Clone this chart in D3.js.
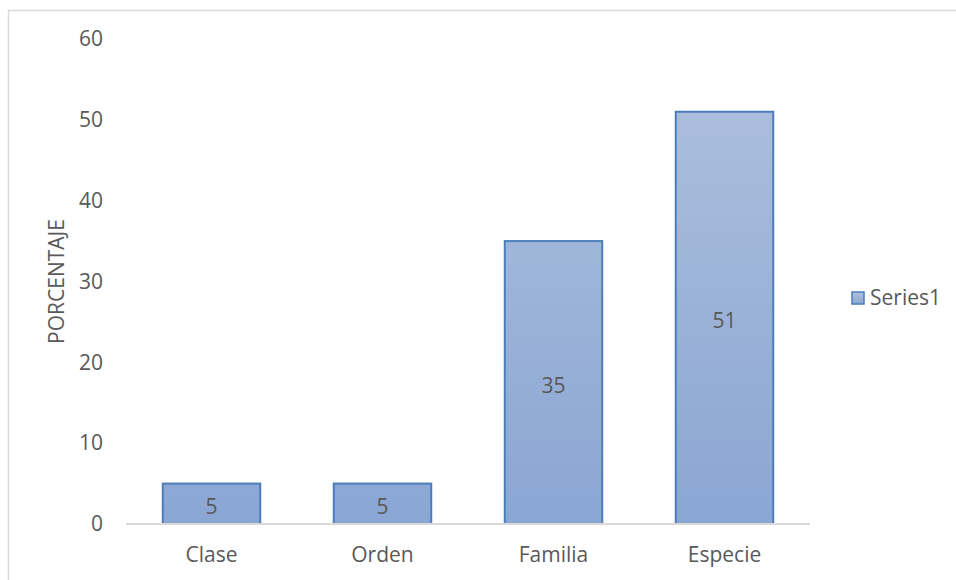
<!DOCTYPE html>
<html>
<head>
<meta charset="utf-8">
<script src="https://cdn.jsdelivr.net/npm/d3@7"></script>
<style>
  html, body { margin: 0; padding: 0; background: #fff; }
  svg { display: block; font-family: "Open Sans", sans-serif; }
</style>
</head>
<body>
<svg id="chart" width="956" height="580"></svg>
<script>
// Taxonomic level categories and their percentages
const categories = ["Clase", "Orden", "Familia", "Especie"];
const values = [5, 5, 35, 51];
const yTicks = [0, 10, 20, 30, 40, 50, 60];
const seriesName = "Series1";
const yTitle = "PORCENTAJE";

const FONT = "'Open Sans', sans-serif";
const svg = d3.select("#chart");
const margin = { left: 126, right: 146, top: 39, bottom: 56 };
const W = 956, H = 580;

// Outer chart frame
svg.append("rect")
  .attr("x", 8.5).attr("y", 10.5)
  .attr("width", W + 10).attr("height", H + 10)
  .attr("fill", "none").attr("stroke", "#d9d9d9").attr("stroke-width", 1.5);

const x = d3.scaleBand()
  .domain(categories)
  .range([margin.left, W - margin.right])
  .paddingInner(0.43).paddingOuter(0.215);

const y = d3.scaleLinear()
  .domain([0, 60])
  .range([H - margin.bottom, margin.top]);

// Bar fill gradient
const defs = svg.append("defs");
const grad = defs.append("linearGradient")
  .attr("id", "barFill")
  .attr("gradientUnits", "userSpaceOnUse")
  .attr("x1", 0).attr("y1", y(60)).attr("x2", 0).attr("y2", y(0));
grad.append("stop").attr("offset", "0%").attr("stop-color", "#b0c1dd");
grad.append("stop").attr("offset", "100%").attr("stop-color", "#8aa6d3");

const legGrad = defs.append("linearGradient")
  .attr("id", "legFill").attr("x1", 0).attr("y1", 0).attr("x2", 0).attr("y2", 1);
legGrad.append("stop").attr("offset", "0%").attr("stop-color", "#b0c1dd");
legGrad.append("stop").attr("offset", "100%").attr("stop-color", "#8aa6d3");

// Y axis tick labels (no axis line)
const yAxis = d3.axisLeft(y).tickValues(yTicks).tickSize(0).tickPadding(0);
const yG = svg.append("g")
  .attr("transform", `translate(${margin.left - 23},0)`)
  .call(yAxis);
yG.select(".domain").remove();
yG.selectAll("text")
  .attr("fill", "#595959")
  .style("font-size", "21px")
  .style("font-family", FONT);

// Y axis title
svg.append("text")
  .attr("transform", `translate(64,${(y(0) + y(60)) / 2}) rotate(-90)`)
  .attr("text-anchor", "middle")
  .attr("fill", "#595959")
  .style("font-size", "21px")
  .style("font-family", FONT)
  .text(yTitle);

// Bars
svg.append("g").selectAll("rect")
  .data(values)
  .join("rect")
  .attr("x", (d, i) => x(categories[i]))
  .attr("y", d => y(d))
  .attr("width", x.bandwidth())
  .attr("height", d => y(0) - y(d))
  .attr("fill", "url(#barFill)")
  .attr("stroke", "#4a7ebb")
  .attr("stroke-width", 2);

// Baseline
svg.append("line")
  .attr("x1", margin.left).attr("x2", W - margin.right)
  .attr("y1", y(0)).attr("y2", y(0))
  .attr("stroke", "#d9d9d9").attr("stroke-width", 2);

// X axis category labels
const xAxis = d3.axisBottom(x).tickSize(0).tickPadding(0);
const xG = svg.append("g")
  .attr("transform", `translate(0,${y(0) + 31})`)
  .call(xAxis);
xG.select(".domain").remove();
xG.selectAll("text")
  .attr("fill", "#595959")
  .attr("dy", "0.32em")
  .style("font-size", "21px")
  .style("font-family", FONT);

// Value labels centered in bars
svg.append("g").selectAll("text")
  .data(values)
  .join("text")
  .attr("x", (d, i) => x(categories[i]) + x.bandwidth() / 2)
  .attr("y", d => (y(d) + y(0)) / 2 + 3)
  .attr("dy", "0.35em")
  .attr("text-anchor", "middle")
  .attr("fill", "#595959")
  .style("font-size", "21px")
  .style("font-family", FONT)
  .text(d => d);

// Legend
const leg = svg.append("g").attr("transform", "translate(852,292)");
leg.append("rect")
  .attr("width", 12).attr("height", 12)
  .attr("fill", "url(#legFill)")
  .attr("stroke", "#4a7ebb").attr("stroke-width", 1.5);
leg.append("text")
  .attr("x", 18).attr("y", 6)
  .attr("dy", "0.35em")
  .attr("fill", "#595959")
  .style("font-size", "21px")
  .style("font-family", FONT)
  .text(seriesName);
</script>
</body>
</html>
